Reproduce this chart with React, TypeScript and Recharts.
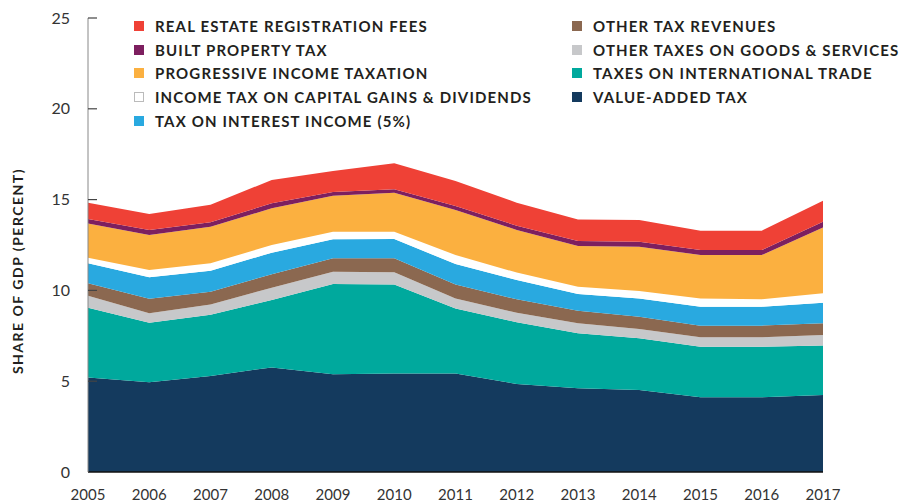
import { AreaChart, Area, XAxis, YAxis } from "recharts";

const YEARS = ["2005", "2006", "2007", "2008", "2009", "2010", "2011", "2012", "2013", "2014", "2015", "2016", "2017"];
const Y_TICKS = [0, 5, 10, 15, 20, 25];

// share of GDP, percent
const VAT = [5.21, 4.94, 5.29, 5.76, 5.38, 5.43, 5.43, 4.85, 4.61, 4.52, 4.11, 4.11, 4.24];
const TRADE = [3.84, 3.28, 3.37, 3.71, 4.97, 4.9, 3.58, 3.39, 3.03, 2.84, 2.79, 2.79, 2.72];
const OTHER_GOODS = [0.66, 0.52, 0.57, 0.68, 0.68, 0.67, 0.55, 0.53, 0.55, 0.51, 0.52, 0.52, 0.58];
const OTHER_REV = [0.68, 0.8, 0.7, 0.74, 0.74, 0.77, 0.77, 0.74, 0.69, 0.68, 0.64, 0.64, 0.65];
const INTEREST = [1.1, 1.18, 1.15, 1.19, 1.04, 1.06, 1.12, 1.06, 0.92, 1.01, 1.04, 1.04, 1.13];
const CAP_GAINS = [0.31, 0.4, 0.41, 0.42, 0.42, 0.4, 0.5, 0.41, 0.4, 0.41, 0.46, 0.41, 0.52];
const PROGRESSIVE = [1.89, 1.93, 2.02, 2.02, 1.98, 2.15, 2.48, 2.35, 2.24, 2.44, 2.39, 2.44, 3.63];
const BUILT = [0.24, 0.28, 0.24, 0.28, 0.21, 0.19, 0.22, 0.23, 0.28, 0.27, 0.27, 0.27, 0.31];
const REAL_ESTATE = [0.9, 0.88, 0.97, 1.28, 1.15, 1.43, 1.37, 1.27, 1.19, 1.2, 1.07, 1.07, 1.16];

// bottom to top
const SERIES = [
  { key: "vat", name: "VALUE-ADDED TAX", values: VAT, color: "#143A5E" },
  { key: "trade", name: "TAXES ON INTERNATIONAL TRADE", values: TRADE, color: "#00A99D" },
  { key: "goods", name: "OTHER TAXES ON GOODS & SERVICES", values: OTHER_GOODS, color: "#C7C8CA" },
  { key: "other", name: "OTHER TAX REVENUES", values: OTHER_REV, color: "#8B6850" },
  { key: "interest", name: "TAX ON INTEREST INCOME (5%)", values: INTEREST, color: "#29A9E0" },
  { key: "capgains", name: "INCOME TAX ON CAPITAL GAINS & DIVIDENDS", values: CAP_GAINS, color: "#FFFFFF" },
  { key: "progressive", name: "PROGRESSIVE INCOME TAXATION", values: PROGRESSIVE, color: "#FBB040" },
  { key: "built", name: "BUILT PROPERTY TAX", values: BUILT, color: "#7D1F5F" },
  { key: "realestate", name: "REAL ESTATE REGISTRATION FEES", values: REAL_ESTATE, color: "#EF4136" },
];

const LEGEND_COL1 = ["realestate", "built", "progressive", "capgains", "interest"];
const LEGEND_COL2 = ["other", "goods", "trade", "vat"];

const data = YEARS.map((year, i) => {
  const row: Record<string, string | number> = { year };
  SERIES.forEach((s) => {
    row[s.key] = s.values[i];
  });
  return row;
});

const FONT = "Lato, 'Open Sans', sans-serif";

function YTick(props: any) {
  const { x, y, payload } = props;
  return (
    <g>
      {payload.value !== 0 && (
        <line x1={x} x2={x + 9} y1={y} y2={y} stroke="#444" strokeWidth={1.2} />
      )}
      <text x={x - 18} y={y} dy={5.5} textAnchor="end" fill="#333" fontSize={16} fontFamily={FONT}>
        {payload.value}
      </text>
    </g>
  );
}

function XTick(props: any) {
  const { x, y, payload } = props;
  return (
    <text x={x} y={y} dy={26} textAnchor="middle" fill="#333" fontSize={15} fontFamily={FONT}>
      {payload.value}
    </text>
  );
}

function LegendColumn({ keys, left }: { keys: string[]; left: number }) {
  return (
    <div style={{ position: "absolute", left, top: 14 }}>
      {keys.map((k) => {
        const s = SERIES.find((d) => d.key === k)!;
        return (
          <div key={k} style={{ display: "flex", alignItems: "center", height: 23.8 }}>
            <span
              style={{
                display: "inline-block",
                width: 10,
                height: 10,
                boxSizing: "border-box",
                background: s.color,
                border: k === "capgains" ? "1.5px solid #BBBBBB" : "none",
                marginRight: 11,
              }}
            />
            <span
              style={{
                fontFamily: FONT,
                fontWeight: 700,
                fontSize: 15,
                letterSpacing: 1.15,
                color: "#231F20",
                whiteSpace: "nowrap",
              }}
            >
              {s.name}
            </span>
          </div>
        );
      })}
    </div>
  );
}

export default function App() {
  return (
    <div style={{ position: "absolute", left: 0, top: 0, width: 904, height: 502, background: "#fff" }}>
      <AreaChart width={904} height={502} data={data} margin={{ top: 18, right: 81, bottom: 0, left: 0 }}>
        <XAxis
          dataKey="year"
          height={30}
          tick={<XTick />}
          tickLine={false}
          tickSize={0}
          axisLine={{ stroke: "#111", strokeWidth: 1.5 }}
          interval={0}
        />
        <YAxis
          width={88}
          domain={[0, 25]}
          ticks={Y_TICKS}
          tick={<YTick />}
          tickLine={false}
          tickSize={0}
          tickMargin={0}
          axisLine={{ stroke: "#888", strokeWidth: 1 }}
          label={{
            value: "SHARE OF GDP (PERCENT)",
            angle: -90,
            position: "insideLeft",
            dx: 13,
            dy: 26,
            style: {
              fontFamily: FONT,
              fontWeight: 700,
              fontSize: 14,
              letterSpacing: 1.5,
              fill: "#231F20",
              textAnchor: "middle",
            },
          }}
        />
        {SERIES.map((s) => (
          <Area
            key={s.key}
            type="linear"
            dataKey={s.key}
            name={s.name}
            stackId="1"
            stroke="none"
            fill={s.color}
            fillOpacity={1}
            isAnimationActive={false}
          />
        ))}
      </AreaChart>
      <LegendColumn keys={LEGEND_COL1} left={134} />
      <LegendColumn keys={LEGEND_COL2} left={572} />
    </div>
  );
}
